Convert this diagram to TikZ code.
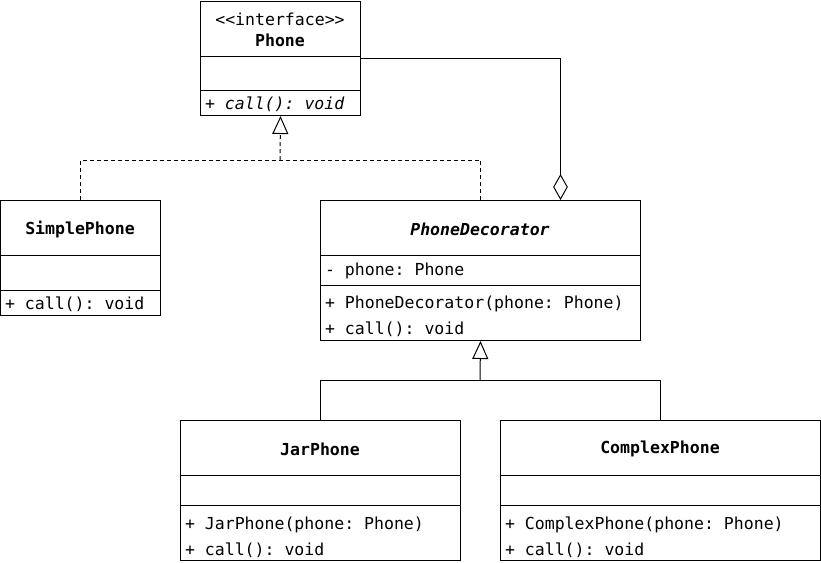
\documentclass[tikz,border=0pt]{standalone}
\usepackage{fontspec}
\setmonofont{DejaVu Sans Mono}
\usetikzlibrary{arrows.meta, positioning}

\begin{document}
\begin{tikzpicture}[x=0.75pt, y=-0.75pt, line width=0.75pt,
    every node/.style={font=\ttfamily\fontsize{12.4}{15.75}\selectfont},
    classbox/.style={draw, inner sep=0, anchor=north west},
    member/.style={anchor=west, inner sep=0},
    dashline/.style={dash pattern=on 3pt off 2.25pt},
    realize/.style={-{Triangle[open, length=13.5pt, width=12pt]}},
    aggregate/.style={-{Diamond[open, length=19.5pt, width=11pt]}}]
    \useasboundingbox (0,0) rectangle (821,562);

    % interface
    \node[classbox, minimum width=120pt, minimum height=85.5pt] (phone) at (200,1) {};
    \draw (200,56) -- (360,56) (200,90) -- (360,90);
    \node[align=center] (phonetitle) at (280,29.5) {<<interface>>\\\textbf{Phone}};
    \node[member] (phonecall) at (204.5,104) {\itshape + call(): void};

    \node[classbox, minimum width=120pt, minimum height=86.25pt] (simple) at (0,200) {};
    \draw (0,255) -- (160,255) (0,290) -- (160,290);
    \node (simpletitle) at (80,229) {\bfseries SimplePhone};
    \node[member] (simplecall) at (4.5,304) {+ call(): void};

    \node[classbox, minimum width=240pt, minimum height=105pt] (deco) at (320,200) {};
    \draw (320,255) -- (640,255) (320,285) -- (640,285);
    \node (decotitle) at (480,229) {\bfseries\itshape PhoneDecorator};
    \node[member] (decofield) at (324.5,271) {- phone: Phone};
    \node[member] (decoctor) at (324.5,304) {+ PhoneDecorator(phone: Phone)};
    \node[member] (decocall) at (324.5,329) {+ call(): void};

    \node[classbox, minimum width=210pt, minimum height=105pt] (jar) at (180,420) {};
    \draw (180,475) -- (460,475) (180,505) -- (460,505);
    \node (jartitle) at (320,449) {\bfseries JarPhone};
    \node[member] (jarctor) at (184.5,525) {+ JarPhone(phone: Phone)};
    \node[member] (jarcall) at (184.5,550) {+ call(): void};

    \node[classbox, minimum width=240pt, minimum height=105pt] (complex) at (500,420) {};
    \draw (500,475) -- (820,475) (500,505) -- (820,505);
    \node (complextitle) at (660,449) {\bfseries ComplexPhone};
    \node[member] (complexctor) at (504.5,525) {+ ComplexPhone(phone: Phone)};
    \node[member] (complexcall) at (504.5,550) {+ call(): void};

    % connectors
    \coordinate (upjoin) at (280,160);
    \coordinate (lowjoin) at (480,380);
    \draw[dashline] (simple.north) |- (upjoin);
    \draw[dashline] (deco.north) |- (upjoin);
    \draw[dashline, realize] (upjoin) -- (phone.south);
    \draw (jar.north) |- (lowjoin);
    \draw (complex.north) |- (lowjoin);
    \draw[realize] (lowjoin) -- (deco.south);
    \draw[aggregate] (phone.east) -| ([xshift=60pt]deco.north);
\end{tikzpicture}
\end{document}
